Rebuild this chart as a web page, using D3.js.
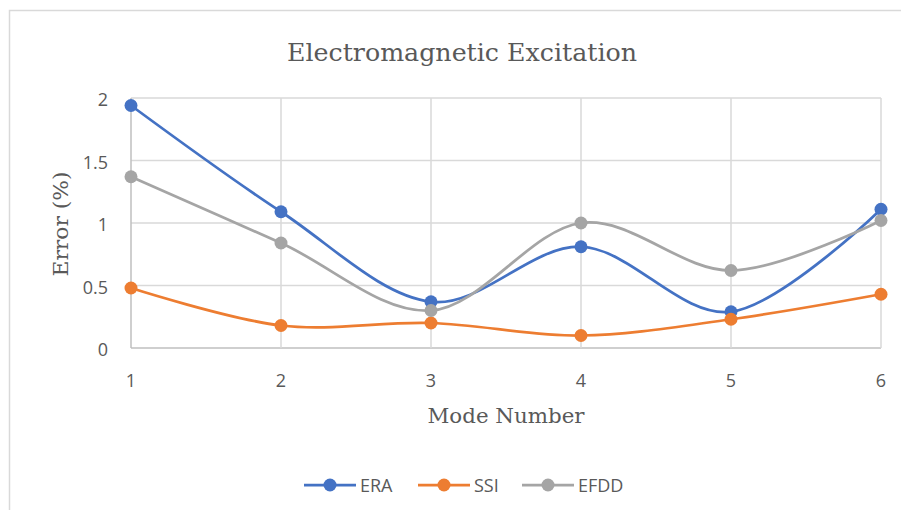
<!DOCTYPE html>
<html>
<head>
<meta charset="utf-8">
<script src="https://cdn.jsdelivr.net/npm/d3@7"></script>
<style>
    body { margin: 0; background: #fff; }
    svg { display: block; }
</style>
</head>
<body>
<svg id="chart" width="901" height="510"></svg>
<script>
// Electromagnetic Excitation — error per mode

const modes = [1, 2, 3, 4, 5, 6];
const era = [1.94, 1.09, 0.37, 0.81, 0.29, 1.11];
const ssi = [0.48, 0.18, 0.20, 0.10, 0.23, 0.43];
const efdd = [1.37, 0.84, 0.30, 1.00, 0.62, 1.02];
const yTicks = [0, 0.5, 1, 1.5, 2];

const series = [
    { name: "ERA", values: era, color: "#4472c4" },
    { name: "SSI", values: ssi, color: "#ed7d31" },
    { name: "EFDD", values: efdd, color: "#a5a5a5" },
];

const svg = d3.select("#chart");
const plot = { left: 131, right: 881, top: 98, bottom: 348 };

const x = d3.scaleLinear().domain([1, 6]).range([plot.left, plot.right]);
const y = d3.scaleLinear().domain([0, 2]).range([plot.bottom, plot.top]);

// chart frame (cropped at right/bottom in the original)
svg.append("rect")
    .attr("x", 9.5).attr("y", 10.5)
    .attr("width", 920).attr("height", 520)
    .attr("fill", "none").attr("stroke", "#d9d9d9").attr("stroke-width", 1.5);

// ---- grid ----

svg.append("g").selectAll("line")
    .data(yTicks).enter().append("line")
    .attr("x1", plot.left).attr("x2", plot.right)
    .attr("y1", d => y(d)).attr("y2", d => y(d))
    .attr("stroke", d => d === 0 ? "#bfbfbf" : "#d9d9d9")
    .attr("stroke-width", 1.5);

svg.append("g").selectAll("line")
    .data(modes).enter().append("line")
    .attr("x1", d => x(d)).attr("x2", d => x(d))
    .attr("y1", plot.top).attr("y2", plot.bottom)
    .attr("stroke", d => d === 1 ? "#bfbfbf" : "#d9d9d9")
    .attr("stroke-width", 1.5);

// ---- tick labels ----

const tickFont = "'Open Sans', 'Noto Sans', sans-serif";

svg.append("g").selectAll("text")
    .data(yTicks).enter().append("text")
    .attr("x", 108).attr("y", d => y(d) + 8)
    .attr("text-anchor", "end")
    .attr("font-family", tickFont).attr("font-size", 18)
    .attr("fill", "#595959")
    .text(d => d);

svg.append("g").selectAll("text")
    .data(modes).enter().append("text")
    .attr("x", d => x(d)).attr("y", 387)
    .attr("text-anchor", "middle")
    .attr("font-family", tickFont).attr("font-size", 18)
    .attr("fill", "#595959")
    .text(d => d);

// ---- titles ----

const serif = "'DejaVu Serif', 'Liberation Serif', serif";

svg.append("text")
    .attr("x", 462).attr("y", 61)
    .attr("text-anchor", "middle")
    .attr("font-family", serif).attr("font-size", 25)
    .attr("fill", "#595959")
    .attr("textLength", 350).attr("lengthAdjust", "spacingAndGlyphs")
    .text("Electromagnetic Excitation");

svg.append("text")
    .attr("x", 506).attr("y", 423)
    .attr("text-anchor", "middle")
    .attr("font-family", serif).attr("font-size", 21)
    .attr("fill", "#595959")
    .attr("textLength", 157).attr("lengthAdjust", "spacingAndGlyphs")
    .text("Mode Number");

svg.append("text")
    .attr("transform", "translate(68,224) rotate(-90)")
    .attr("text-anchor", "middle")
    .attr("font-family", serif).attr("font-size", 21)
    .attr("fill", "#595959")
    .attr("textLength", 105).attr("lengthAdjust", "spacingAndGlyphs")
    .text("Error (%)");

// ---- lines ----

const line = d3.line()
    .x((d, i) => x(modes[i]))
    .y(d => y(d))
    .curve(d3.curveCardinal.tension(0));

const g = svg.append("g").selectAll("g")
    .data(series).enter().append("g");

g.append("path")
    .attr("d", d => line(d.values))
    .attr("fill", "none")
    .attr("stroke", d => d.color)
    .attr("stroke-width", 2.75);

g.selectAll("circle")
    .data(d => d.values.map((v, i) => ({ v, i, color: d.color })))
    .enter().append("circle")
    .attr("cx", d => x(modes[d.i]))
    .attr("cy", d => y(d.v))
    .attr("r", 6.5)
    .attr("fill", d => d.color);

// ---- legend ----

const legendX = [304, 418, 522];
const legend = svg.append("g").selectAll("g")
    .data(series).enter().append("g")
    .attr("transform", (d, i) => `translate(${legendX[i]},485)`);

legend.append("line")
    .attr("x1", 0).attr("x2", 52)
    .attr("stroke", d => d.color).attr("stroke-width", 2.75);

legend.append("circle")
    .attr("cx", 26).attr("r", 6.5)
    .attr("fill", d => d.color);

legend.append("text")
    .attr("x", 56).attr("y", 6.5)
    .attr("font-family", tickFont).attr("font-size", 18)
    .attr("fill", "#595959")
    .text(d => d.name);
</script>
</body>
</html>
